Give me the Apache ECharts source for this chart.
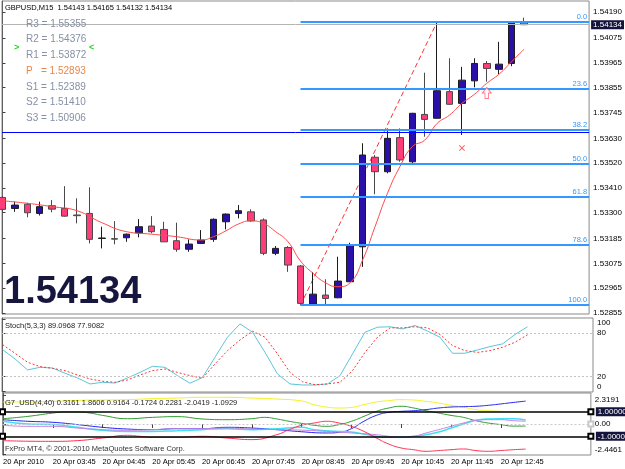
<!DOCTYPE html>
<html>
<head>
<meta charset="utf-8">
<title>GBPUSD,M15</title>
<script src="https://cdn.jsdelivr.net/npm/echarts@6/dist/echarts.min.js"></script>
<style>
    html, body { margin: 0; padding: 0; background: #fff; }
    #chart { width: 625px; height: 469px; }
</style>
</head>
<body>
<div id="chart"></div>
<script>
// ---- data ----
const timeLabels = ['20 Apr 2010', '20 Apr 03:45', '20 Apr 04:45', '20 Apr 05:45', '20 Apr 06:45', '20 Apr 07:45',
    '20 Apr 08:45', '20 Apr 09:45', '20 Apr 10:45', '20 Apr 11:45', '20 Apr 12:45'];
const labelBars = [0, 4, 8, 12, 16, 20, 24, 28, 32, 36, 40];

const barOpen = [1.53368, 1.53319, 1.53338, 1.53297, 1.53331, 1.53319, 1.53290, 1.53297, 1.53186, 1.53185,
    1.53189, 1.53211, 1.53241, 1.53226, 1.53176, 1.53138, 1.53164, 1.53182, 1.53260, 1.53297,
    1.53304, 1.53268, 1.53120, 1.53146, 1.53064, 1.52895, 1.52935, 1.52923, 1.52994, 1.53149,
    1.53546, 1.53482, 1.53633, 1.53526, 1.53736, 1.53719, 1.53837, 1.53785, 1.53885, 1.53962,
    1.53936, 1.53962, 1.54143];
const barClose = [1.53315, 1.53334, 1.53300, 1.53327, 1.53316, 1.53285, 1.53287, 1.53182, 1.53188, 1.53183,
    1.53205, 1.53238, 1.53216, 1.53171, 1.53138, 1.53161, 1.53179, 1.53271, 1.53294, 1.53309,
    1.53264, 1.53120, 1.53142, 1.53068, 1.52898, 1.52939, 1.52920, 1.52997, 1.53157, 1.53556,
    1.53482, 1.53630, 1.53534, 1.53741, 1.53714, 1.53841, 1.53781, 1.53888, 1.53962, 1.53940,
    1.53959, 1.54143, 1.54134];
const barLow = [1.53303, 1.53304, 1.53280, 1.53288, 1.53302, 1.53283, 1.53253, 1.53164, 1.53142, 1.53160,
    1.53171, 1.53191, 1.53209, 1.53170, 1.53127, 1.53127, 1.53161, 1.53171, 1.53226, 1.53275,
    1.53260, 1.53112, 1.53112, 1.53038, 1.52890, 1.52892, 1.52893, 1.52921, 1.52993, 1.53060,
    1.53382, 1.53475, 1.53526, 1.53519, 1.53637, 1.53717, 1.53778, 1.53645, 1.53856, 1.53881,
    1.53915, 1.53950, 1.54132];
const barHigh = [1.53374, 1.53349, 1.53344, 1.53349, 1.53356, 1.53418, 1.53364, 1.53413, 1.53238, 1.53263,
    1.53208, 1.53272, 1.53285, 1.53260, 1.53256, 1.53182, 1.53223, 1.53275, 1.53297, 1.53334,
    1.53315, 1.53275, 1.53152, 1.53152, 1.53068, 1.53037, 1.53005, 1.53105, 1.53167, 1.53608,
    1.53556, 1.53674, 1.53674, 1.53743, 1.53921, 1.54146, 1.53985, 1.53947, 1.53985, 1.53973,
    1.54058, 1.54148, 1.54165];

// moving average, [bar, price]
const maPoints = [[0, 1.53353], [2, 1.53342], [4, 1.53327], [6, 1.53309], [8, 1.53256], [10, 1.53216],
    [12, 1.53205], [14, 1.53194], [16, 1.53179], [17, 1.53194], [18, 1.53220], [19, 1.53250], [20, 1.53264],
    [21, 1.53253], [22, 1.53216], [23, 1.53171], [24, 1.53086], [25, 1.53032], [26, 1.52990], [27, 1.52972],
    [28, 1.52990], [29, 1.53090], [30, 1.53238], [31, 1.53386], [32, 1.53504], [33, 1.53593], [34, 1.53622],
    [35, 1.53696], [36, 1.53733], [37, 1.53785], [38, 1.53825], [39, 1.53874], [40, 1.53915], [41, 1.53970],
    [42, 1.54025]];

const priceTicks = [1.54190, 1.54075, 1.53965, 1.53855, 1.53745, 1.53630, 1.53520, 1.53410, 1.53300,
    1.53185, 1.53075, 1.52965, 1.52855];
const bidPrice = 1.54134;
const dayLinePrice = 1.53658;

const fibLow = [24, 1.52890];
const fibHigh = [35, 1.54146];
const fibLevels = [0, 23.6, 38.2, 50, 61.8, 78.6, 100];
const fibLabels = ['0.0', '23.6', '38.2', '50.0', '61.8', '78.6', '100.0'];

const pivotNames = ['R3', 'R2', 'R1', 'P  ', 'S1', 'S2', 'S3'];
const pivotValues = ['1.55355', '1.54376', '1.53872', '1.52893', '1.52389', '1.51410', '1.50906'];

const crossMark = [37, 1.53587];
const arrowMark = [39, 1.53831];

const stochMain = [57.5, 44.6, 29.4, 33, 32, 24.8, 18.3, 10, 12.3, 11.3, 18.3, 26, 34.4, 33, 21.5, 11, 19,
    47, 74.6, 93, 81.5, 53.6, 23.8, 10, 8.6, 8.6, 10, 21.5, 51.5, 81.5, 88.4, 89, 86, 90.7, 83, 74.6,
    52.4, 52.4, 57, 61.6, 65.4, 78.3, 89.1];
const stochSignal = [64.4, 52.4, 40, 34, 31.6, 28.4, 22.4, 16.9, 13.7, 12.3, 15.5, 22.4, 28.4, 30.7, 26,
    21.5, 17.8, 37.7, 56, 70.8, 82.8, 74.6, 51.5, 26, 13, 9, 10, 12.3, 28.4, 53.6, 74.6, 87.5, 87.5, 89,
    87.5, 78.3, 63, 56, 53.6, 56, 60.7, 67.6, 77.9];
const stochTicks = [100, 80, 20, 0];

// G7_USD lines, [bar, value]
const g7Yellow = [[0, 1.79], [2, 1.79], [4, 1.84], [6, 1.92], [8, 1.95], [10, 1.98], [12, 2.06], [14, 2.11],
    [16, 2.17], [18, 2.17], [20, 2.11], [22, 2.03], [24, 1.87], [25, 1.57], [26, 1.38], [27, 1.3], [28, 1.35],
    [29, 1.57], [30, 1.79], [31, 1.9], [32, 1.98], [33, 1.95], [34, 1.84], [35, 1.71], [36, 1.52], [37, 1.36],
    [38, 1.17], [39, 1.08], [40, 1.03], [41, 0.98], [42, 0.92]];
const g7Green = [[0, 0.43], [2, 0.62], [4, 0.89], [5, 0.98], [6, 0.98], [7, 0.89], [8, 0.7], [10, 0.43],
    [12, 0.54], [14, 0.6], [16, 0.41], [18, 0.35], [20, 0.43], [21, 0.54], [22, 0.41], [23, 0.22], [24, 0.05],
    [25, -0.1], [26, -0.19], [27, -0.05], [28, 0.22], [29, 0.62], [30, 1.03], [31, 1.3], [32, 1.44], [33, 1.3],
    [34, 1.08], [35, 0.89], [36, 0.7], [37, 0.54], [38, 0.27], [39, 0.08], [40, -0.05], [41, -0.17], [42, -0.17]];
const g7Blue = [[0, 0.35], [2, 0.22], [4, 0.14], [6, -0.05], [8, -0.27], [10, -0.41], [12, -0.46], [14, -0.38],
    [16, -0.38], [18, -0.27], [20, -0.33], [22, -0.46], [24, -0.63], [26, -0.73], [27, -0.68], [28, -0.38],
    [29, 0.22], [30, 0.7], [31, 0.95], [32, 1.03], [33, 1.08], [34, 1.17], [35, 1.3], [36, 1.38], [37, 1.41],
    [38, 1.44], [39, 1.52], [40, 1.63], [41, 1.75], [42, 1.86]];
const g7Cyan = [[0, 0.22], [2, 0], [4, -0.05], [6, -0.27], [8, -0.51], [10, -0.6], [12, -0.6], [14, -0.54],
    [16, -0.46], [18, -0.38], [20, -0.46], [22, -0.38], [24, -0.27], [25, -0.46], [27, -0.6], [28, -0.65],
    [29, -0.81], [30, -1.0], [31, -1.08], [32, -1.08], [33, -1.0], [34, -0.87], [35, -0.65], [36, -0.33],
    [37, 0], [38, 0.3], [39, 0.41], [40, 0.43], [41, 0.43], [42, 0.32]];
const g7Violet = [[0, -0.1], [2, -0.19], [4, -0.19], [6, -0.33], [8, -0.46], [10, -0.51], [12, -0.46],
    [14, -0.38], [16, -0.38], [18, -0.33], [20, -0.41], [22, -0.46], [24, -0.5], [26, -0.6], [28, -0.73],
    [30, -0.87], [31, -1.0], [32, -1.08], [33, -1.0], [34, -0.73], [35, -0.46], [36, -0.19], [37, 0.08],
    [38, 0.3], [39, 0.35], [40, 0.35], [41, 0.27], [42, 0.23]];
const g7Red = [[0, -1.35], [2, -1.4], [4, -1.41], [6, -1.35], [8, -1.14], [10, -0.92], [11, -1.0], [12, -1.08],
    [14, -1.08], [16, -1.0], [18, -1.14], [20, -1.27], [22, -0.87], [23, -0.46], [24, -0.1], [25, 0.08],
    [26, 0.22], [27, 0.08], [28, -0.19], [29, -0.6], [30, -1.14], [31, -1.63], [32, -1.95], [33, -2.09],
    [34, -2.22], [35, -2.16], [36, -2.09], [37, -2.03], [38, -2.16], [39, -2.22], [40, -2.16], [41, -2.09],
    [42, -2.04]];
const g7Ticks = [2.3191, 0, -2.4461];

// ---- chart ----
const FONT = '"Liberation Sans", Arial, sans-serif';
const xMin = -0.04, xMax = 47.24;

const chart = echarts.init(document.getElementById('chart'));

const candles = barOpen.map((o, i) => [i, o, barClose[i], barLow[i], barHigh[i]]);
const fibPrice = lvl => fibHigh[1] - (fibHigh[1] - fibLow[1]) * lvl / 100;

function xAxisFor(gridIndex, showLabels) {
    return {
        type: 'value', gridIndex, min: xMin, max: xMax,
        axisLine: { show: false },
        splitLine: { show: false },
        axisTick: { show: showLabels, customValues: labelBars, length: 4, lineStyle: { color: '#404040' } },
        axisLabel: {
            show: showLabels, customValues: labelBars, align: 'left', margin: 3,
            fontSize: 7.5, fontFamily: FONT, color: '#000',
            formatter: v => timeLabels[labelBars.indexOf(v)] || ''
        }
    };
}

function yAxisFor(gridIndex, min, max, ticks, formatter) {
    return {
        type: 'value', gridIndex, position: 'right', min, max,
        axisLine: { show: true, lineStyle: { color: '#606060' } },
        axisTick: { show: true, customValues: ticks, length: 3, lineStyle: { color: '#404040' } },
        splitLine: { show: false },
        axisLabel: {
            customValues: ticks, margin: 4, fontSize: 8, fontFamily: FONT, color: '#000', formatter,
            rich: {
                dn: { fontSize: 8, fontFamily: FONT, color: '#000', padding: [8, 0, 0, 0] },
                up: { fontSize: 8, fontFamily: FONT, color: '#000', padding: [0, 0, 9, 0] }
            }
        }
    };
}

const darkTag = {
    show: true, position: 'end', distance: 2, color: '#fff', backgroundColor: '#14143c',
    padding: [1, 2, 0, 2], fontSize: 8, fontFamily: FONT
};

const gridBase = { left: 2, right: 32, show: true, borderColor: '#8a8a8a', borderWidth: 1 };

const option = {
    animation: false,
    backgroundColor: '#fff',
    grid: [
        Object.assign({ top: 1, height: 313 }, gridBase),
        Object.assign({ top: 318, height: 74 }, gridBase),
        Object.assign({ top: 393, height: 62 }, gridBase)
    ],
    xAxis: [xAxisFor(0, false), xAxisFor(1, false), xAxisFor(2, true)],
    yAxis: [
        yAxisFor(0, 1.52851, 1.54239, priceTicks, v => v.toFixed(5)),
        yAxisFor(1, -1.1, 101.1, stochTicks, v => v === 100 ? '{dn|100}' : (v === 0 ? '{up|0}' : String(v))),
        yAxisFor(2, -2.52, 2.52, g7Ticks, v => v > 2 ? '{dn|' + v.toFixed(4) + '}'
            : (v < -2 ? '{up|' + v.toFixed(4) + '}' : '0.00'))
    ],
    series: [
        {
            name: 'GBPUSD', type: 'candlestick', xAxisIndex: 0, yAxisIndex: 0,
            barWidth: 7,
            itemStyle: {
                color: '#2a10a8', color0: '#ff3d7a',
                borderColor: '#1c1c1c', borderColor0: '#4a4a4a', borderWidth: 1
            },
            data: candles,
            z: 3
        },
        {
            name: 'MA', type: 'line', xAxisIndex: 0, yAxisIndex: 0,
            data: maPoints, smooth: true, showSymbol: false,
            lineStyle: { color: '#ff4a4a', width: 1 }, z: 4,
            markLine: {
                silent: true, symbol: 'none', animation: false, precision: 5,
                data: [
                    {
                        yAxis: dayLinePrice, lineStyle: { color: '#0000ff', width: 1, type: 'solid' },
                        label: { show: false }
                    },
                    {
                        yAxis: bidPrice, lineStyle: { color: '#b4b4b4', width: 1, type: 'solid' },
                        label: Object.assign({ formatter: bidPrice.toFixed(5) }, darkTag)
                    }
                ]
            }
        },
        {
            name: 'Fibo', type: 'line', xAxisIndex: 0, yAxisIndex: 0,
            data: [fibLow, fibHigh], showSymbol: false,
            lineStyle: { color: '#ff3030', width: 1, type: [5, 3] },
            markLine: {
                silent: true, symbol: 'none', animation: false, precision: 5,
                lineStyle: { color: '#3399ff', width: 2, type: 'solid' },
                label: {
                    show: true, position: 'insideEndTop', distance: [2, 1],
                    color: '#3399ff', fontSize: 7.5, fontFamily: FONT
                },
                data: fibLevels.map((lvl, k) => [
                    { coord: [fibLow[0], fibPrice(lvl)], label: { formatter: fibLabels[k] } },
                    { coord: [xMax, fibPrice(lvl)] }
                ])
            },
            z: 2
        },
        {
            name: 'marks', type: 'scatter', xAxisIndex: 0, yAxisIndex: 0,
            data: [
                {
                    value: crossMark, symbolSize: 6,
                    symbol: 'path://M1,0 L5,4 L9,0 L10,1 L6,5 L10,9 L9,10 L5,6 L1,10 L0,9 L4,5 L0,1 Z',
                    itemStyle: { color: '#ff2020' }
                },
                {
                    value: arrowMark, symbolSize: [9, 11],
                    symbol: 'path://M5,0 L10,5 L7,5 L7,10 L3,10 L3,5 L0,5 Z',
                    itemStyle: { color: '#fff', borderColor: '#ff6070', borderWidth: 1 }
                }
            ],
            z: 5
        },
        {
            name: 'Stoch main', type: 'line', xAxisIndex: 1, yAxisIndex: 1,
            data: stochMain.map((v, i) => [i, v]), showSymbol: false,
            lineStyle: { color: '#5cc6da', width: 1 },
            markLine: {
                silent: true, symbol: 'none', animation: false, label: { show: false },
                lineStyle: { color: '#c4c4c4', width: 1, type: [2, 2] },
                data: [{ yAxis: 80 }, { yAxis: 20 }]
            }
        },
        {
            name: 'Stoch signal', type: 'line', xAxisIndex: 1, yAxisIndex: 1,
            data: stochSignal.map((v, i) => [i, v]), showSymbol: false,
            lineStyle: { color: '#ff3535', width: 1, type: [2, 2] }
        },
        {
            name: 'G7 yellow', type: 'line', xAxisIndex: 2, yAxisIndex: 2, data: g7Yellow,
            smooth: true, showSymbol: false, lineStyle: { color: '#f2f21c', width: 1 },
            markLine: {
                silent: true, animation: false, symbol: ['emptyRect', 'emptyRect'], symbolSize: 5,
                lineStyle: { color: '#000', width: 1.5, type: 'solid' },
                data: [
                    { yAxis: 1, label: Object.assign({ formatter: '1.00000' }, darkTag, { distance: 5 }) },
                    { yAxis: -1, label: Object.assign({ formatter: '-1.00000' }, darkTag, { distance: 5 }) },
                    {
                        yAxis: 0, symbol: 'none', label: { show: false },
                        lineStyle: { color: '#c8c8c8', width: 1, type: [2, 2] }
                    }
                ]
            }
        },
        {
            name: 'G7 green', type: 'line', xAxisIndex: 2, yAxisIndex: 2, data: g7Green,
            smooth: true, showSymbol: false, lineStyle: { color: '#2e9a2e', width: 1 }
        },
        {
            name: 'G7 blue', type: 'line', xAxisIndex: 2, yAxisIndex: 2, data: g7Blue,
            smooth: true, showSymbol: false, lineStyle: { color: '#2424f0', width: 1 }
        },
        {
            name: 'G7 cyan', type: 'line', xAxisIndex: 2, yAxisIndex: 2, data: g7Cyan,
            smooth: true, showSymbol: false, lineStyle: { color: '#3fe0f0', width: 1.5 }
        },
        {
            name: 'G7 violet', type: 'line', xAxisIndex: 2, yAxisIndex: 2, data: g7Violet,
            smooth: true, showSymbol: false, lineStyle: { color: '#c483e0', width: 1 }
        },
        {
            name: 'G7 red', type: 'line', xAxisIndex: 2, yAxisIndex: 2, data: g7Red,
            smooth: true, showSymbol: false, lineStyle: { color: '#ff3050', width: 1 }
        }
    ],
    graphic: [
        {
            type: 'text', x: 5, y: 8, z: 10,
            style: { text: 'GBPUSD,M15  1.54143 1.54165 1.54132 1.54134', font: '7.5px ' + FONT, fill: '#000', verticalAlign: 'middle' }
        },
        ...pivotNames.map((name, k) => ({
            type: 'text', x: 26, y: 24 + k * 15.7, z: 10,
            style: {
                text: name + ' = ' + pivotValues[k], font: '10px ' + FONT, verticalAlign: 'middle',
                fill: k === 3 ? '#e8874a' : '#8490a4'
            }
        })),
        {
            type: 'text', x: 14, y: 48, z: 10,
            style: { text: '>', font: 'bold 9px ' + FONT, fill: '#22d822', verticalAlign: 'middle' }
        },
        {
            type: 'text', x: 89, y: 48, z: 10,
            style: { text: '<', font: 'bold 9px ' + FONT, fill: '#22d822', verticalAlign: 'middle' }
        },
        {
            type: 'text', x: 4, y: 293, z: 10,
            style: { text: bidPrice.toFixed(5), font: 'bold 38px ' + FONT, fill: '#16163e', verticalAlign: 'middle' }
        },
        {
            type: 'text', x: 5, y: 326, z: 10,
            style: { text: 'Stoch(5,3,3) 89.0968 77.9082', font: '7.5px ' + FONT, fill: '#222', verticalAlign: 'middle' }
        },
        {
            type: 'text', x: 5, y: 403, z: 10,
            style: {
                text: 'G7_USD(4,40) 0.3161 1.8606 0.9164 -0.1724 0.2281 -2.0419 -1.0929',
                font: '7.5px ' + FONT, fill: '#222', verticalAlign: 'middle'
            }
        },
        {
            type: 'text', x: 5, y: 449, z: 10,
            style: { text: 'FxPro MT4, © 2001-2010 MetaQuotes Software Corp.', font: '7.5px ' + FONT, fill: '#333', verticalAlign: 'middle' }
        }
    ]
};

chart.setOption(option);
</script>
</body>
</html>
